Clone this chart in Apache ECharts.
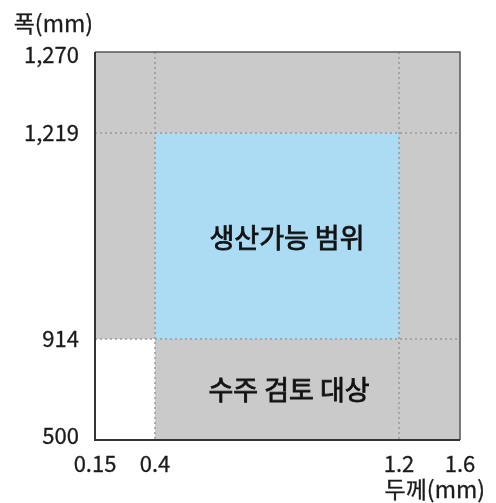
<!DOCTYPE html>
<html>
<head>
<meta charset="utf-8">
<script src="https://cdn.jsdelivr.net/npm/echarts@6/dist/echarts.min.js"></script>
<style>html,body{margin:0;padding:0;background:#fff}#c{width:496px;height:503px}</style>
</head>
<body>
<div id="c"></div>
<script>
// ---- data ----
const xTicks = [0.15, 0.4, 1.2, 1.6];          // 두께 (mm)
const yTicks = [500, 914, 1219, 1270];         // 폭 (mm)
const reviewRegion = [0.15, 1.6, 500, 1270];   // [x0, x1, y0, y1] 수주 검토 대상
const excludedRegion = [0.15, 0.4, 500, 914];  // 범위 밖
const productionRegion = [0.4, 1.2, 914, 1219];// 생산가능 범위
const regionLabels = ['생산가능 범위', '수주 검토 대상'];

// ---- layout (schematic, non-linear axis spacing) ----
const xLayout = [0, 60, 304, 365];
const yLayout = [0, 101, 307, 388];
function interp(v, src, dst) {
  for (let i = 0; i < src.length - 1; i++) {
    if (v <= src[i + 1] || i === src.length - 2) {
      const t = (v - src[i]) / (src[i + 1] - src[i]);
      return dst[i] + t * (dst[i + 1] - dst[i]);
    }
  }
}
const mx = v => interp(v, xTicks, xLayout);
const my = v => interp(v, yTicks, yLayout);
function unmap(v, layout, ticks) {
  const i = layout.indexOf(v);
  return i >= 0 ? ticks[i] : null;
}

const FONT = '"Noto Sans CJK KR", "Noto Sans", sans-serif';
const TXT = '#1a1a1a';
const rects = [
  { r: reviewRegion, color: '#cacaca' },
  { r: excludedRegion, color: '#ffffff' },
  { r: productionRegion, color: '#abdcf3' }
];

const chart = echarts.init(document.getElementById('c'));
chart.setOption({
  animation: false,
  grid: { left: 95, right: 36, top: 52, bottom: 63 },
  xAxis: {
    type: 'value', min: xLayout[0], max: xLayout[xLayout.length - 1],
    name: '두께(mm)', nameLocation: 'end', nameGap: 25,
    nameTextStyle: { fontFamily: FONT, fontSize: 23, color: TXT, align: 'right', verticalAlign: 'top', padding: [38, 0, 0, 0], textBorderColor: TXT, textBorderWidth: 0.3 },
    axisLine: { show: false },
    axisTick: { show: false },
    splitLine: { show: false },
    axisLabel: {
      customValues: xLayout,
      formatter: v => String(unmap(v, xLayout, xTicks)),
      fontFamily: FONT, fontSize: 22, color: TXT, margin: 13, textBorderColor: TXT, textBorderWidth: 0.3
    }
  },
  yAxis: {
    type: 'value', min: yLayout[0], max: yLayout[yLayout.length - 1],
    name: '폭(mm)', nameLocation: 'end', nameGap: 17,
    nameTextStyle: { fontFamily: FONT, fontSize: 23, color: TXT, align: 'right', padding: [0, 2, 0, 0], textBorderColor: TXT, textBorderWidth: 0.3 },
    axisLine: { show: false },
    axisTick: { show: false },
    splitLine: { show: false },
    axisLabel: {
      customValues: yLayout,
      formatter: v => {
        const s = unmap(v, yLayout, yTicks).toLocaleString('en-US');
        if (v === yLayout[yLayout.length - 1]) return '{top|' + s + '}';
        if (v === yLayout[0]) return '{bot|' + s + '}';
        return s;
      },
      rich: {
        top: { fontFamily: FONT, fontSize: 22, color: TXT, padding: [6, 0, 0, 0], textBorderColor: TXT, textBorderWidth: 0.3 },
        bot: { fontFamily: FONT, fontSize: 22, color: TXT, padding: [0, 0, 8, 0], textBorderColor: TXT, textBorderWidth: 0.3 }
      },
      fontFamily: FONT, fontSize: 22, color: TXT, margin: 16, textBorderColor: TXT, textBorderWidth: 0.3
    }
  },
  series: [{
    type: 'custom',
    data: [0],
    renderItem: function (params, api) {
      const children = [];
      rects.forEach(o => {
        const p0 = api.coord([mx(o.r[0]), my(o.r[3])]);
        const p1 = api.coord([mx(o.r[1]), my(o.r[2])]);
        children.push({ type: 'rect', shape: { x: p0[0], y: p0[1], width: p1[0] - p0[0], height: p1[1] - p0[1] }, style: { fill: o.color } });
      });
      const tl = api.coord([mx(xTicks[0]), my(yTicks[3])]);
      const br = api.coord([mx(xTicks[3]), my(yTicks[0])]);
      const dash = { stroke: '#999', lineWidth: 1.5, lineDash: [2, 3] };
      [xTicks[1], xTicks[2]].forEach(x => {
        const px = api.coord([mx(x), 0])[0];
        children.push({ type: 'line', shape: { x1: px, y1: tl[1], x2: px, y2: br[1] }, style: dash });
      });
      [yTicks[1], yTicks[2]].forEach(y => {
        const py = api.coord([0, my(y)])[1];
        children.push({ type: 'line', shape: { x1: tl[0], y1: py, x2: br[0], y2: py }, style: dash });
      });
      // frame
      children.push({ type: 'polyline', shape: { points: [[tl[0], tl[1]], [br[0], tl[1]], [br[0], br[1]]] }, style: { stroke: '#555', lineWidth: 1.5, fill: null } });
      children.push({ type: 'polyline', shape: { points: [[tl[0], tl[1]], [tl[0], br[1]], [br[0], br[1]]] }, style: { stroke: '#333', lineWidth: 2, fill: null } });
      // region labels
      const c1 = api.coord([(mx(productionRegion[0]) + mx(productionRegion[1])) / 2, (my(productionRegion[2]) + my(productionRegion[3])) / 2]);
      const c2 = api.coord([(mx(productionRegion[0]) + mx(productionRegion[1])) / 2, (my(reviewRegion[2]) + my(productionRegion[2])) / 2]);
      const lbl = { fill: '#111', font: '27px ' + FONT, align: 'center', verticalAlign: 'middle', stroke: '#111', lineWidth: 0.8 };
      children.push({ type: 'text', x: c1[0] + 10, y: c1[1] + 2, style: Object.assign({ text: regionLabels[0] }, lbl) });
      children.push({ type: 'text', x: c2[0] + 12, y: c2[1], style: Object.assign({ text: regionLabels[1] }, lbl) });
      return { type: 'group', children: children };
    }
  }]
});
</script>
</body>
</html>
